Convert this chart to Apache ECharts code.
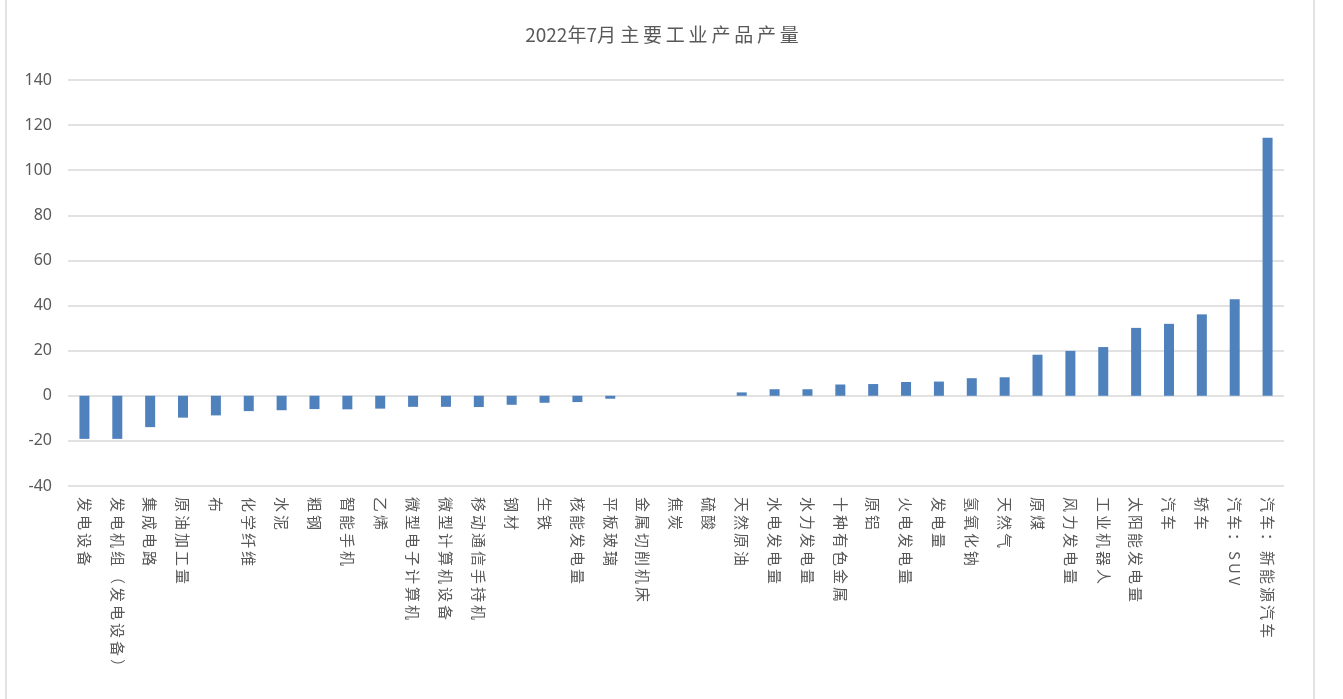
<!DOCTYPE html>
<html>
<head>
<meta charset="utf-8">
<title>2022年7月主要工业产品产量</title>
<script src="https://cdn.jsdelivr.net/npm/echarts@6/dist/echarts.min.js"></script>
<style>
  html, body { margin: 0; padding: 0; background: #fff; }
  #main { width: 1343px; height: 699px; }
</style>
</head>
<body>
<div id="main"></div>
<script>
// 产品名称（横轴）
const categories = [
  '发电设备', '发电机组（发电设备）', '集成电路', '原油加工量', '布', '化学纤维',
  '水泥', '粗钢', '智能手机', '乙烯', '微型电子计算机', '微型计算机设备',
  '移动通信手持机', '钢材', '生铁', '核能发电量', '平板玻璃', '金属切削机床',
  '焦炭', '硫酸', '天然原油', '水电发电量', '水力发电量', '十种有色金属',
  '原铝', '火电发电量', '发电量', '氢氧化钠', '天然气', '原煤',
  '风力发电量', '工业机器人', '太阳能发电量', '汽车', '轿车', '汽车：SUV',
  '汽车：新能源汽车'
];

// 同比增速
const growth = [
  -19.1, -19.1, -13.9, -9.7, -8.7, -6.8,
  -6.4, -5.9, -6.0, -5.7, -4.9, -4.9,
  -5.0, -4.0, -3.1, -2.8, -1.3, 0,
  0, 0, 1.5, 2.9, 2.9, 5.0,
  5.2, 6.1, 6.3, 7.8, 8.2, 18.2,
  19.9, 21.6, 30.1, 31.9, 36.1, 42.8,
  114.4
];

// 纵轴范围
const yMin = -40;
const yMax = 140;
const yStep = 20;

const titleText = '2022年7月主要工业产品产量';

// Excel 里中文字符间距较宽，用细空格拉开一点
function spaced(s) {
  return s.split('').join('\u2009');
}

const chart = echarts.init(document.getElementById('main'));

chart.setOption({
  animation: false,
  backgroundColor: '#fff',
  title: {
    text: titleText.slice(0, 7) + ' ' + spaced(titleText.slice(7)),
    left: 657,
    textAlign: 'center',
    top: 20,
    textStyle: {
      fontFamily: '"Noto Sans CJK SC", sans-serif',
      fontSize: 19,
      fontWeight: 'normal',
      color: '#595959'
    }
  },
  graphic: [{
    type: 'rect',
    shape: { x: 6, y: -5, width: 1308, height: 710 },
    style: { fill: 'none', stroke: '#d9d9d9', lineWidth: 1.5 },
    silent: true
  }],
  grid: { left: 68, right: 59, top: 80, bottom: 213 },
  xAxis: {
    type: 'category',
    data: categories,
    axisLine: { show: false },
    axisTick: { show: false },
    axisLabel: {
      interval: 0,
      rotate: -90,
      margin: 11,
      formatter: spaced,
      fontFamily: '"Noto Sans CJK SC", sans-serif',
      fontSize: 15,
      color: '#595959'
    }
  },
  yAxis: {
    type: 'value',
    min: yMin,
    max: yMax,
    interval: yStep,
    axisLine: { show: false },
    axisTick: { show: false },
    axisLabel: {
      margin: 16,
      fontFamily: '"Noto Sans", sans-serif',
      fontSize: 16,
      color: '#595959'
    },
    splitLine: { lineStyle: { color: '#d9d9d9', width: 1.5 } }
  },
  series: [{
    type: 'bar',
    data: growth,
    barWidth: 10,
    itemStyle: { color: '#4f81bd' }
  }]
});
</script>
</body>
</html>
